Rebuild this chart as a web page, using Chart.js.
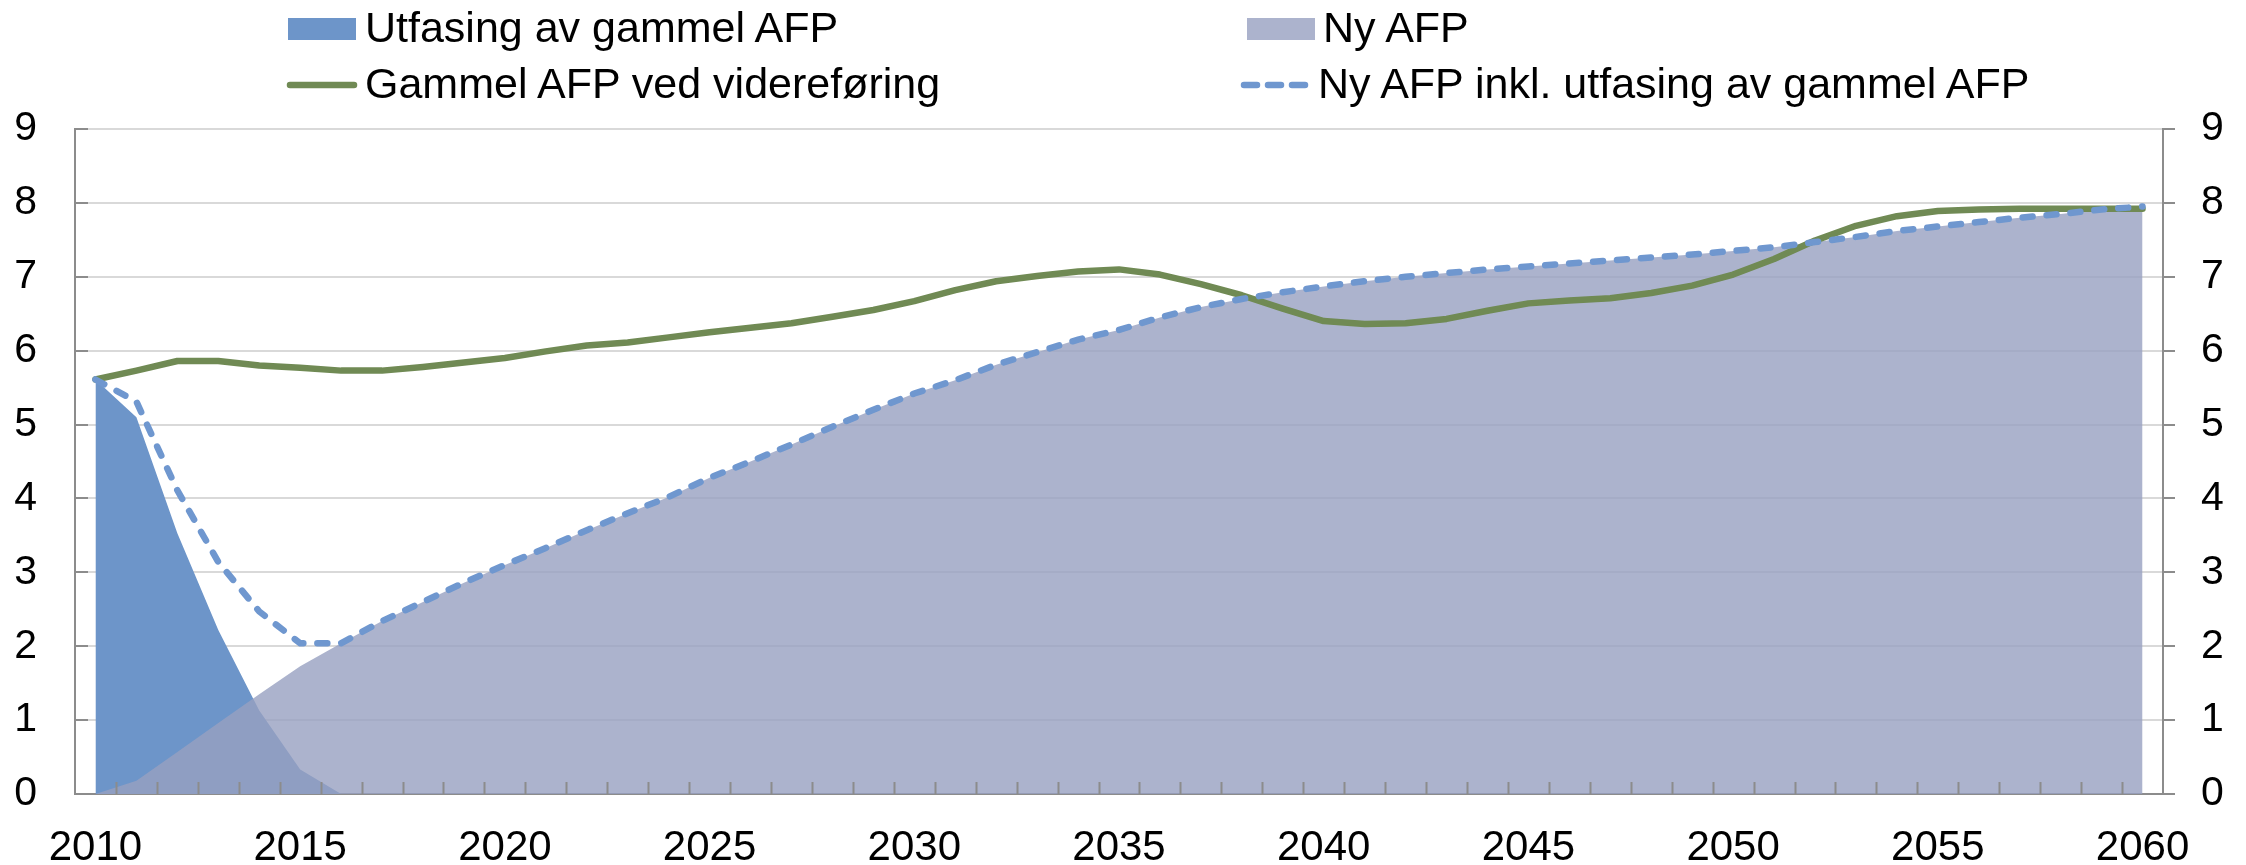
<!DOCTYPE html>
<html>
<head>
<meta charset="utf-8">
<script src="https://cdn.jsdelivr.net/npm/chart.js@4"></script>
<style>
  body { margin: 0; background: #fff; }
  #wrap { position: relative; width: 2246px; height: 865px; }
  .lg { position: absolute; font-family: "Liberation Sans", Arial, sans-serif; font-size: 43px; line-height: 43px; color: #000; white-space: nowrap; }
  .sw { position: absolute; }
</style>
</head>
<body>
<div id="wrap">
  <canvas id="chart" width="2246" height="865"></canvas>

  <div class="sw" style="left:288px;top:18px;width:68px;height:22px;background:#6d95c9"></div>
  <div class="lg" style="left:365px;top:6px">Utfasing av gammel AFP</div>

  <div class="sw" style="left:1247px;top:18px;width:68px;height:22px;background:#acb3cd"></div>
  <div class="lg" style="left:1323px;top:6px">Ny AFP</div>

  <svg class="sw" style="left:286px;top:75px" width="72" height="20">
    <line x1="4" y1="10" x2="68" y2="10" stroke="#708a54" stroke-width="6.5" stroke-linecap="round"/>
  </svg>
  <div class="lg" style="left:365px;top:62px">Gammel AFP ved videreføring</div>

  <svg class="sw" style="left:1240px;top:75px" width="72" height="20">
    <line x1="4" y1="10" x2="68" y2="10" stroke="#6f97cf" stroke-width="6.5" stroke-linecap="round" stroke-dasharray="13 11"/>
  </svg>
  <div class="lg" style="left:1318px;top:62px">Ny AFP inkl. utfasing av gammel AFP</div>
</div>
<script>
var years = []
for (var y = 2010; y <= 2060; y++) years.push(String(y))

// Utfasing av gammel AFP
var utfasing = [5.61, 5.10, 3.53, 2.22, 1.13, 0.33, 0, 0, 0, 0,
  0, 0, 0, 0, 0, 0, 0, 0, 0, 0,
  0, 0, 0, 0, 0, 0, 0, 0, 0, 0,
  0, 0, 0, 0, 0, 0, 0, 0, 0, 0,
  0, 0, 0, 0, 0, 0, 0, 0, 0, 0, 0]

// Ny AFP
var nyAfp = [0, 0.18, 0.57, 0.96, 1.35, 1.73, 2.04, 2.34, 2.60, 2.86,
  3.10, 3.33, 3.57, 3.80, 4.02, 4.28, 4.50, 4.73, 4.97, 5.20,
  5.42, 5.60, 5.81, 5.98, 6.15, 6.28, 6.45, 6.59, 6.70, 6.79,
  6.87, 6.94, 7.00, 7.05, 7.10, 7.14, 7.18, 7.22, 7.26, 7.30,
  7.35, 7.40, 7.47, 7.54, 7.62, 7.68, 7.74, 7.80, 7.85, 7.91, 7.95]

// Gammel AFP ved videreføring
var gammel = [5.61, 5.73, 5.86, 5.86, 5.80, 5.77, 5.73, 5.73, 5.78, 5.84,
  5.90, 5.99, 6.07, 6.11, 6.18, 6.25, 6.31, 6.37, 6.46, 6.55,
  6.67, 6.82, 6.94, 7.01, 7.07, 7.10, 7.03, 6.90, 6.75, 6.57,
  6.40, 6.36, 6.37, 6.43, 6.54, 6.64, 6.68, 6.71, 6.78, 6.88,
  7.03, 7.24, 7.49, 7.69, 7.82, 7.89, 7.91, 7.92, 7.92, 7.92, 7.92]

// Ny AFP inkl. utfasing av gammel AFP
var nyInkl = [5.61, 5.31, 4.11, 3.14, 2.47, 2.04, 2.04, 2.34, 2.60, 2.86,
  3.10, 3.33, 3.57, 3.80, 4.02, 4.28, 4.50, 4.73, 4.97, 5.20,
  5.42, 5.60, 5.81, 5.98, 6.15, 6.28, 6.45, 6.59, 6.70, 6.79,
  6.87, 6.94, 7.00, 7.05, 7.10, 7.14, 7.18, 7.22, 7.26, 7.30,
  7.35, 7.40, 7.47, 7.54, 7.62, 7.68, 7.74, 7.80, 7.85, 7.91, 7.95]

var axisGray = "#8c8c8c"
var xFont = { family: "'Liberation Sans', Arial, sans-serif", size: 42 }
var yFont = { family: "'Liberation Sans', Arial, sans-serif", size: 41 }

// small inward tick marks like the original (x at category borders, left y axis)
var innerTicks = {
  id: "innerTicks",
  afterDatasetsDraw: function (chart) {
    var ctx = chart.ctx
    var xs = chart.scales.x
    var ys = chart.scales.y
    var step = xs.getPixelForValue(1) - xs.getPixelForValue(0)
    ctx.save()
    ctx.strokeStyle = axisGray
    ctx.lineWidth = 2
    ctx.beginPath()
    for (var i = 1; i < years.length; i++) {
      var px = Math.round(xs.getPixelForValue(i) - step / 2) + 0.5
      ctx.moveTo(px, ys.bottom)
      ctx.lineTo(px, ys.bottom - 12)
    }
    for (var v = 0; v <= 9; v++) {
      var py = Math.round(ys.getPixelForValue(v))
      ctx.moveTo(ys.right, py)
      ctx.lineTo(ys.right + 13, py)
    }
    ctx.stroke()
    ctx.restore()
  }
}

new Chart(document.getElementById("chart"), {
  type: "line",
  data: {
    labels: years,
    datasets: [
      {
        label: "Ny AFP inkl. utfasing av gammel AFP",
        data: nyInkl,
        borderColor: "#6f97cf",
        borderWidth: 6.5,
        borderDash: [10, 14],
        borderCapStyle: "round",
        pointRadius: 0,
        fill: false,
        order: 1
      },
      {
        label: "Gammel AFP ved videreføring",
        data: gammel,
        borderColor: "#708a54",
        borderWidth: 6.5,
        borderCapStyle: "round",
        borderJoinStyle: "round",
        pointRadius: 0,
        fill: false,
        order: 2
      },
      {
        label: "Ny AFP",
        data: nyAfp,
        borderWidth: 0,
        backgroundColor: "rgba(151,160,193,0.8)",
        pointRadius: 0,
        fill: "origin",
        order: 3
      },
      {
        label: "Utfasing av gammel AFP",
        data: utfasing,
        borderWidth: 0,
        backgroundColor: "#6d95c9",
        pointRadius: 0,
        fill: "origin",
        order: 4
      }
    ]
  },
  options: {
    responsive: false,
    animation: false,
    layout: { padding: { top: 129, left: 0, right: 0, bottom: 0 } },
    plugins: { legend: { display: false }, tooltip: { enabled: false } },
    elements: { line: { tension: 0 } },
    scales: {
      x: {
        offset: true,
        grid: { display: false },
        border: { display: true, color: axisGray, width: 2 },
        ticks: {
          autoSkip: false,
          maxRotation: 0,
          padding: 21,
          color: "#000",
          font: xFont,
          callback: function (val, i) {
            return (2010 + i) % 5 == 0 ? years[i] : ""
          }
        },
        afterFit: function (s) { s.height = 71 }
      },
      y: {
        position: "left",
        min: 0,
        max: 9,
        grid: { color: "#d9d9d9", lineWidth: 2, drawTicks: false },
        border: { display: true, color: axisGray, width: 2 },
        ticks: { stepSize: 1, padding: 38, color: "#000", font: yFont },
        afterFit: function (s) { s.width = 75 }
      },
      y2: {
        position: "right",
        min: 0,
        max: 9,
        grid: { drawOnChartArea: false, color: axisGray, lineWidth: 2, tickLength: 12 },
        border: { display: true, color: axisGray, width: 2 },
        ticks: { stepSize: 1, padding: 26, color: "#000", font: yFont },
        afterFit: function (s) { s.width = 83 }
      }
    }
  },
  plugins: [innerTicks]
})
</script>
</body>
</html>
